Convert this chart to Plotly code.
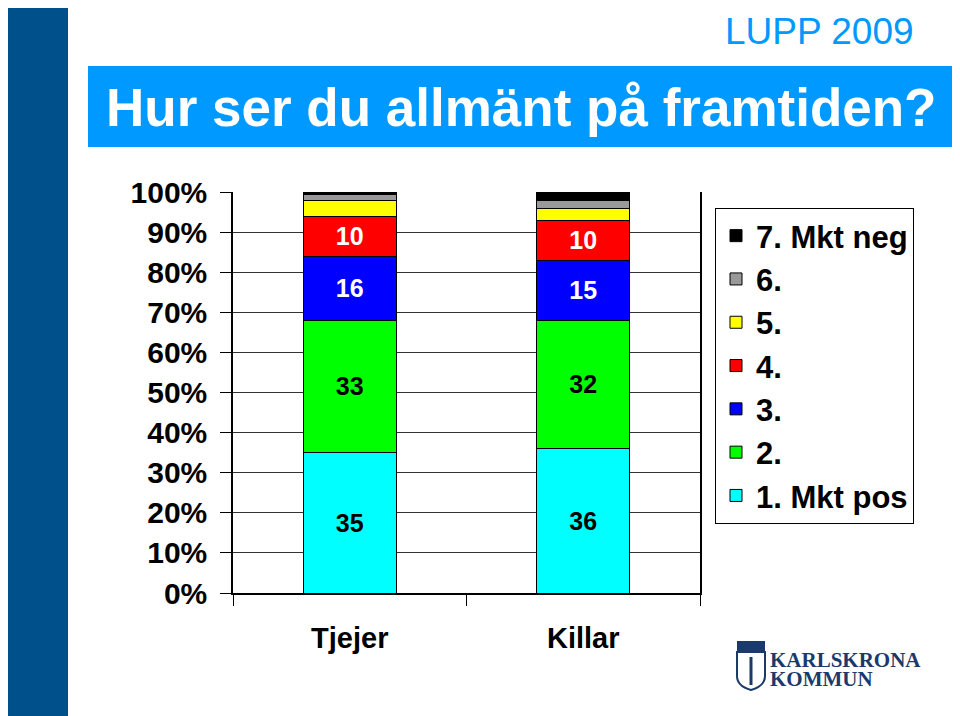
import plotly.graph_objects as go

W, H = 960, 716
OFF = 8  # the page body margin moves the figure by 8 px

groups = ["Tjejer", "Killar"]
answers = ["1. Mkt pos", "2.", "3.", "4.", "5.", "6.", "7. Mkt neg"]
colors = ["#00FFFF", "#00FF00", "#0000FF", "#FF0000", "#FFFF00", "#999999", "#000000"]
label_colors = ["black", "black", "white", "white", "black", "black", "white"]

# percent per answer, per group (Tjejer, Killar)
tjejer = [35, 33, 16, 10, 4, 1.3, 0.7]
killar = [36, 32, 15, 10, 3, 2, 2]
show_label = [True, True, True, True, False, False, False]

yticks = [0, 10, 20, 30, 40, 50, 60, 70, 80, 90, 100]
ytick_text = [f"{v}%" for v in yticks]

SANS = "Liberation Sans, Arial, Helvetica, sans-serif"
SERIF = "Liberation Serif, Times New Roman, serif"


def px(x):
    return (x - OFF) / W


def py(y):
    return (H - (y - OFF)) / H


fig = go.Figure()
for i, name in enumerate(answers):
    vals = [tjejer[i], killar[i]]
    txt = [str(round(v)) for v in vals] if show_label[i] else ["", ""]
    fig.add_trace(go.Bar(
        x=groups, y=vals, name=name,
        legendgroup=name, legendrank=10 - i,
        marker=dict(color=colors[i], line=dict(color="black", width=1)),
        text=txt, textposition="inside", insidetextanchor="middle",
        textangle=0, constraintext="none",
        textfont=dict(family=SANS, size=25, color=label_colors[i], weight="bold"),
        hoverinfo="skip",
    ))

fig.update_layout(
    width=W, height=H,
    margin=dict(l=0, r=0, t=0, b=0, autoexpand=False),
    paper_bgcolor="white", plot_bgcolor="white",
    barmode="stack", bargap=0.6,
    font=dict(family=SANS, color="black"),
    showlegend=True,
    legend=dict(
        x=px(715), y=py(208), xanchor="left", yanchor="top",
        traceorder="grouped", tracegroupgap=0,
        bordercolor="black", borderwidth=1, bgcolor="white",
        font=dict(family=SANS, size=31, color="black", weight="bold"),
    ),
    xaxis=dict(
        domain=[px(233), px(700)],
        showline=True, linecolor="black", linewidth=1.5,
        ticks="outside", tickson="boundaries", ticklen=11, tickcolor="black",
        ticklabelstandoff=18,
        tickfont=dict(family=SANS, size=29, color="black", weight="bold"),
        showgrid=False, automargin=False,
    ),
    yaxis=dict(
        domain=[py(593), py(192)],
        range=[0, 100], tickmode="array", tickvals=yticks, ticktext=ytick_text,
        showline=True, linecolor="black", linewidth=1.5, mirror=True,
        ticks="outside", ticklen=11, tickcolor="black",
        ticklabelstandoff=7,
        tickfont=dict(family=SANS, size=30, color="black", weight="bold"),
        showgrid=True, gridcolor="#333333", gridwidth=1,
        zeroline=False, automargin=False,
    ),
)

# slide decoration: dark side band and title banner
fig.add_shape(type="rect", xref="paper", yref="paper",
              x0=px(0), x1=px(68), y0=py(730), y1=py(0),
              fillcolor="#00508C", line=dict(width=0), layer="below")
fig.add_shape(type="rect", xref="paper", yref="paper",
              x0=px(88), x1=px(957), y0=py(147), y1=py(66),
              fillcolor="#0099FF", line=dict(width=0), layer="below")
fig.add_annotation(xref="paper", yref="paper", x=px(521), y=py(107),
                   xanchor="center", yanchor="middle",
                   text="Hur ser du allmänt på framtiden?", showarrow=False,
                   font=dict(family=SANS, size=53, color="white", weight="bold"))
fig.add_annotation(xref="paper", yref="paper", x=px(916), y=py(32),
                   xanchor="right", yanchor="middle", text="LUPP 2009", showarrow=False,
                   font=dict(family=SANS, size=37, color="#0099FF"))

# municipality logo (simplified)
fig.add_shape(type="path", xref="paper", yref="paper",
              path=f"M {px(737)} {py(652)} L {px(765)} {py(652)} L {px(765)} {py(676)} "
                   f"Q {px(765)} {py(686)} {px(751)} {py(690)} Q {px(737)} {py(686)} {px(737)} {py(676)} Z",
              fillcolor="white", line=dict(color="#1B3A6B", width=2))
fig.add_shape(type="rect", xref="paper", yref="paper",
              x0=px(737), x1=px(765), y0=py(652), y1=py(641),
              fillcolor="#1B3A6B", line=dict(width=0))
fig.add_shape(type="line", xref="paper", yref="paper",
              x0=px(751), x1=px(751), y0=py(657), y1=py(685),
              line=dict(color="#1B3A6B", width=3))
fig.add_annotation(xref="paper", yref="paper", x=px(768), y=py(660),
                   xanchor="left", yanchor="middle", text="KARLSKRONA", showarrow=False,
                   font=dict(family=SERIF, size=21, color="#1B3A6B", weight="bold"))
fig.add_annotation(xref="paper", yref="paper", x=px(768), y=py(679),
                   xanchor="left", yanchor="middle", text="KOMMUN", showarrow=False,
                   font=dict(family=SERIF, size=21, color="#1B3A6B", weight="bold"))

fig.write_html("out.html")
